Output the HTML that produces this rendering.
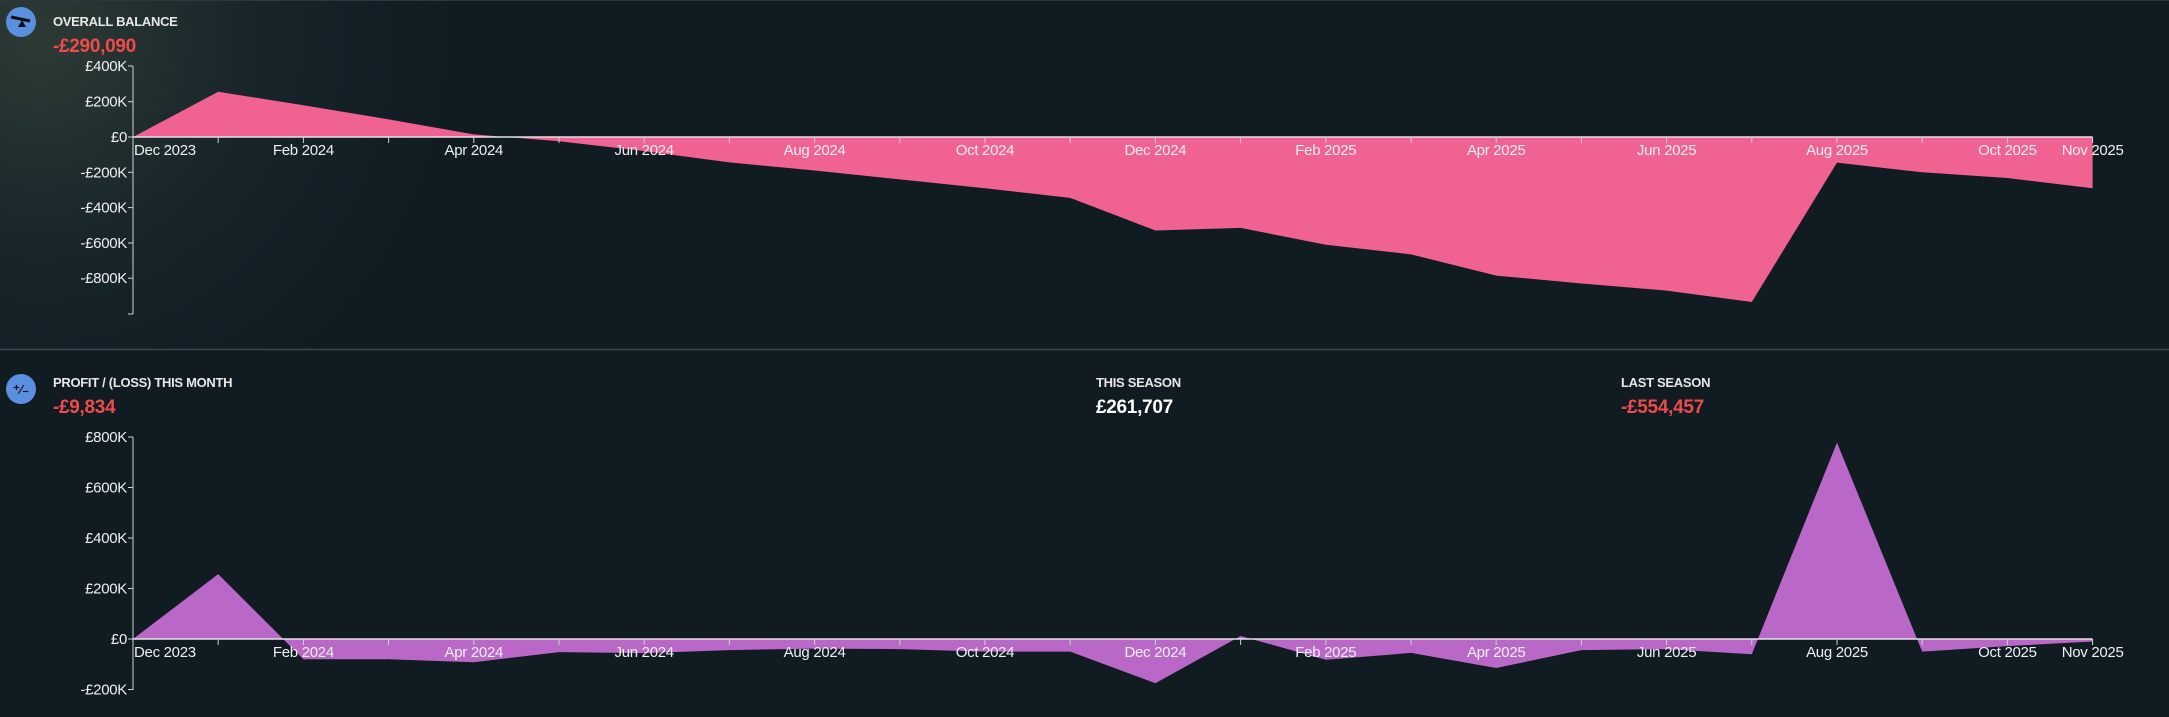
<!DOCTYPE html>
<html><head><meta charset="utf-8"><style>
html,body{margin:0;padding:0;background:#101b22;}
svg{display:block;font-family:"Liberation Sans",sans-serif;}
</style></head><body>
<svg width="2169" height="717" viewBox="0 0 2169 717" xmlns="http://www.w3.org/2000/svg">
<defs>
<radialGradient id="glow" cx="40" cy="40" r="420" gradientUnits="userSpaceOnUse">
<stop offset="0" stop-color="#2d3a35"/><stop offset="0.5" stop-color="#18252b"/><stop offset="1" stop-color="#101b22"/>
</radialGradient>
</defs>
<rect width="2169" height="717" fill="#101b22"/>
<rect width="2169" height="349" fill="url(#glow)"/>
<line x1="0" y1="0.5" x2="2169" y2="0.5" stroke="#2a3940"/>
<line x1="0" y1="349.5" x2="2169" y2="349.5" stroke="#3a484f" stroke-width="1.5"/>

<!-- header top -->
<circle cx="21" cy="22" r="15" fill="#5b8fe0"/>
<path d="M11 17 L30 21" stroke="#111" stroke-width="3"/>
<path d="M18 27 L22 20 L26 27 Z" fill="#111"/>
<text x="53" y="26" font-size="13" font-weight="bold" fill="#e8e8e8" letter-spacing="-0.3">OVERALL BALANCE</text>
<text x="53" y="52" font-size="19" font-weight="bold" fill="#f04b4b" letter-spacing="-0.3">-£290,090</text>

<!-- top chart -->
<polygon fill="#f06292" points="133,137 218.2,91.8 303.4,105.2 388.6,119.4 473.8,134.4 559,141.2 644.2,151.1 729.4,162.4 814.6,170.5 899.8,179.4 985,188.2 1070.2,197.9 1155.4,230.5 1240.6,227.9 1325.8,244.7 1411,254.4 1496.2,275.6 1581.4,283.5 1666.6,290.6 1751.8,302 1837,162.6 1922.2,172.3 2007.4,178 2092.6,188.2 2092.6,137"/>
<g stroke="#cfd3d6" stroke-width="1" fill="none">
<line x1="133" y1="66" x2="133" y2="314"/>
<line x1="128" y1="66" x2="133" y2="66"/><line x1="128" y1="101.7" x2="133" y2="101.7"/><line x1="128" y1="137" x2="133" y2="137"/>
<line x1="128" y1="172.3" x2="133" y2="172.3"/><line x1="128" y1="207.6" x2="133" y2="207.6"/><line x1="128" y1="243" x2="133" y2="243"/><line x1="128" y1="278.2" x2="133" y2="278.2"/><line x1="128" y1="314" x2="133" y2="314"/>
<line x1="133" y1="137" x2="2092.6" y2="137" stroke="#e6e0e6" stroke-width="1.5"/>
<g id="ticks1">
<line x1="218.2" y1="137" x2="218.2" y2="143"/><line x1="303.4" y1="137" x2="303.4" y2="143"/><line x1="388.6" y1="137" x2="388.6" y2="143"/><line x1="473.8" y1="137" x2="473.8" y2="143"/><line x1="559" y1="137" x2="559" y2="143"/><line x1="644.2" y1="137" x2="644.2" y2="143"/><line x1="729.4" y1="137" x2="729.4" y2="143"/><line x1="814.6" y1="137" x2="814.6" y2="143"/><line x1="899.8" y1="137" x2="899.8" y2="143"/><line x1="985" y1="137" x2="985" y2="143"/><line x1="1070.2" y1="137" x2="1070.2" y2="143"/><line x1="1155.4" y1="137" x2="1155.4" y2="143"/><line x1="1240.6" y1="137" x2="1240.6" y2="143"/><line x1="1325.8" y1="137" x2="1325.8" y2="143"/><line x1="1411" y1="137" x2="1411" y2="143"/><line x1="1496.2" y1="137" x2="1496.2" y2="143"/><line x1="1581.4" y1="137" x2="1581.4" y2="143"/><line x1="1666.6" y1="137" x2="1666.6" y2="143"/><line x1="1751.8" y1="137" x2="1751.8" y2="143"/><line x1="1837" y1="137" x2="1837" y2="143"/><line x1="1922.2" y1="137" x2="1922.2" y2="143"/><line x1="2007.4" y1="137" x2="2007.4" y2="143"/><line x1="2092.6" y1="137" x2="2092.6" y2="143"/>
</g>
</g>
<g font-size="15" fill="#eef0f0" text-anchor="end" letter-spacing="-0.3">
<text x="127" y="71">£400K</text><text x="127" y="106.5">£200K</text><text x="127" y="142">£0</text>
<text x="127" y="177.5">-£200K</text><text x="127" y="212.5">-£400K</text><text x="127" y="248">-£600K</text><text x="127" y="283">-£800K</text>
</g>
<g font-size="15" fill="#eef0f0" text-anchor="middle" letter-spacing="-0.3">
<text x="134" y="155" text-anchor="start">Dec 2023</text><text x="303.4" y="155">Feb 2024</text><text x="473.8" y="155">Apr 2024</text><text x="644.2" y="155">Jun 2024</text><text x="814.6" y="155">Aug 2024</text><text x="985" y="155">Oct 2024</text><text x="1155.4" y="155">Dec 2024</text><text x="1325.8" y="155">Feb 2025</text><text x="1496.2" y="155">Apr 2025</text><text x="1666.6" y="155">Jun 2025</text><text x="1837" y="155">Aug 2025</text><text x="2007.4" y="155">Oct 2025</text><text x="2092.6" y="155">Nov 2025</text>
</g>

<!-- header bottom -->
<circle cx="21" cy="389" r="15" fill="#5b8fe0"/>
<text x="21" y="394" font-size="13" font-weight="bold" fill="#111" text-anchor="middle">⁺⁄₋</text>
<text x="53" y="387" font-size="13" font-weight="bold" fill="#e8e8e8" letter-spacing="-0.3">PROFIT / (LOSS) THIS MONTH</text>
<text x="53" y="413" font-size="19" font-weight="bold" fill="#f04b4b" letter-spacing="-0.3">-£9,834</text>
<text x="1096" y="387" font-size="13" font-weight="bold" fill="#e8e8e8" letter-spacing="-0.3">THIS SEASON</text>
<text x="1096" y="413" font-size="19" font-weight="bold" fill="#ffffff" letter-spacing="-0.3">£261,707</text>
<text x="1621" y="387" font-size="13" font-weight="bold" fill="#e8e8e8" letter-spacing="-0.3">LAST SEASON</text>
<text x="1621" y="413" font-size="19" font-weight="bold" fill="#f04b4b" letter-spacing="-0.3">-£554,457</text>

<!-- bottom chart -->
<polygon fill="#ba68c8" points="133,639 218.2,574.1 303.4,659.2 388.6,659.2 473.8,662.2 559,652.1 644.2,653.1 729.4,650.1 814.6,648.6 899.8,649.1 985,651.6 1070.2,651.6 1155.4,683.2 1240.6,636 1325.8,659.7 1411,652.9 1496.2,668 1581.4,650.1 1666.6,649.1 1751.8,654.2 1837,442.6 1922.2,651.6 2007.4,646.1 2092.6,641.5 2092.6,639"/>
<g stroke="#cfd3d6" stroke-width="1" fill="none">
<line x1="133" y1="437" x2="133" y2="690"/>
<line x1="128" y1="437" x2="133" y2="437"/><line x1="128" y1="487.5" x2="133" y2="487.5"/><line x1="128" y1="538" x2="133" y2="538"/><line x1="128" y1="588.5" x2="133" y2="588.5"/><line x1="128" y1="639" x2="133" y2="639"/><line x1="128" y1="689.5" x2="133" y2="689.5"/>
<line x1="133" y1="639" x2="2092.6" y2="639" stroke="#e6e0e6" stroke-width="1.5"/>
<use href="#ticks1" transform="translate(0,502)"/>
</g>
<g font-size="15" fill="#eef0f0" text-anchor="end" letter-spacing="-0.3">
<text x="127" y="442">£800K</text><text x="127" y="492.5">£600K</text><text x="127" y="543">£400K</text><text x="127" y="593.5">£200K</text><text x="127" y="644">£0</text><text x="127" y="694.5">-£200K</text>
</g>
<g font-size="15" fill="#eef0f0" text-anchor="middle" letter-spacing="-0.3">
<text x="134" y="657" text-anchor="start">Dec 2023</text><text x="303.4" y="657">Feb 2024</text><text x="473.8" y="657">Apr 2024</text><text x="644.2" y="657">Jun 2024</text><text x="814.6" y="657">Aug 2024</text><text x="985" y="657">Oct 2024</text><text x="1155.4" y="657">Dec 2024</text><text x="1325.8" y="657">Feb 2025</text><text x="1496.2" y="657">Apr 2025</text><text x="1666.6" y="657">Jun 2025</text><text x="1837" y="657">Aug 2025</text><text x="2007.4" y="657">Oct 2025</text><text x="2092.6" y="657">Nov 2025</text>
</g>
</svg>
</body></html>
